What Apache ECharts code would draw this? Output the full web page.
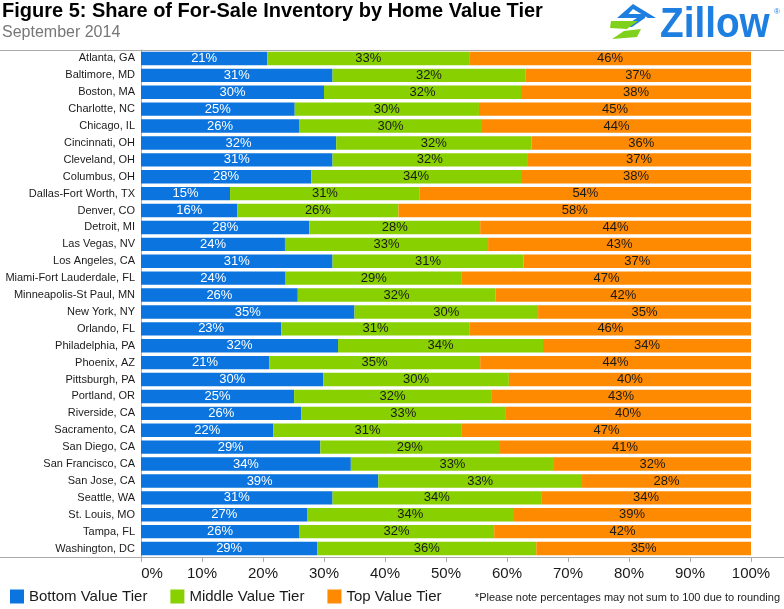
<!DOCTYPE html>
<html>
<head>
<meta charset="utf-8">
<script src="https://cdn.jsdelivr.net/npm/echarts@6/dist/echarts.min.js"></script>
<style>
html,body{margin:0;padding:0;background:#fff;}
#chart{width:784px;height:609px;}
</style>
</head>
<body>
<div id="chart"></div>
<script>
var cities = ["Atlanta, GA","Baltimore, MD","Boston, MA","Charlotte, NC","Chicago, IL","Cincinnati, OH","Cleveland, OH","Columbus, OH","Dallas-Fort Worth, TX","Denver, CO","Detroit, MI","Las Vegas, NV","Los Angeles, CA","Miami-Fort Lauderdale, FL","Minneapolis-St Paul, MN","New York, NY","Orlando, FL","Philadelphia, PA","Phoenix, AZ","Pittsburgh, PA","Portland, OR","Riverside, CA","Sacramento, CA","San Diego, CA","San Francisco, CA","San Jose, CA","Seattle, WA","St. Louis, MO","Tampa, FL","Washington, DC"];
var bottomTier = [20.7,31.4,30.0,25.2,25.9,32.0,31.4,27.9,14.6,15.8,27.6,23.6,31.4,23.7,25.7,35.0,23.0,32.3,21.0,29.9,25.1,26.3,21.7,29.4,34.4,38.9,31.4,27.3,25.9,28.9];
var middleTier = [33.1,31.6,32.3,30.2,30.0,32.0,31.9,34.4,31.1,26.4,28.0,33.3,31.3,28.9,32.4,30.1,30.9,33.6,34.6,30.4,32.3,33.4,30.9,29.3,33.3,33.4,34.2,33.7,32.0,35.9];
var topTier = [46.2,37.0,37.7,44.6,44.1,36.0,36.7,37.7,54.3,57.8,44.4,43.1,37.3,47.4,41.9,34.9,46.1,34.1,44.4,39.7,42.6,40.3,47.4,41.3,32.3,27.7,34.4,39.0,42.1,35.2];
var xTicks = [0,10,20,30,40,50,60,70,80,90,100];
var seriesNames = ["Bottom Value Tier","Middle Value Tier","Top Value Tier"];

var FONT = 'Arial, "Liberation Sans", sans-serif';
var colors = ['#0b74de','#88d000','#fd8a00'];

function mkSeries(name, data, color, labelColor){
  return {
    name: name, type: 'bar', stack: 'all', data: data,
    barCategoryGap: '21%',
    itemStyle: {color: color},
    label: {show: true, position: 'inside', color: labelColor, fontSize: 13, fontFamily: FONT,
      formatter: function(p){ return Math.round(p.value) + '%'; }},
    emphasis: {disabled: true}
  };
}

var chart = echarts.init(document.getElementById('chart'), null, {renderer: 'canvas'});
chart.setOption({
  animation: false,
  backgroundColor: '#fff',
  title: {
    left: 2, top: 1, padding: 0, itemGap: 4,
    text: '{b|Figure 5}{n|: Share of For-Sale Inventory by Home Value Tier}',
    textStyle: {rich: {
      b: {fontSize: 20, fontWeight: 'bold', fontFamily: FONT, color: '#000'},
      n: {fontSize: 20, fontFamily: FONT, color: '#000'}
    }},
    subtext: 'September 2014',
    subtextStyle: {fontSize: 16, fontFamily: FONT, color: '#777'}
  },
  legend: {
    left: 10, top: 589, padding: 0, itemWidth: 14, itemHeight: 14, itemGap: 23, icon: 'rect',
    data: seriesNames,
    textStyle: {fontSize: 15, fontFamily: FONT, color: '#1a1a1a'},
    selectedMode: false
  },
  grid: {left: 141, right: 33, top: 50, bottom: 52},
  xAxis: {
    type: 'value', min: 0, max: 100, interval: 10,
    axisLine: {show: true, lineStyle: {color: '#aaa'}},
    axisTick: {show: true, length: 5, lineStyle: {color: '#aaa'}},
    splitLine: {show: false},
    axisLabel: {
      fontSize: 15, fontFamily: FONT, color: '#1a1a1a', margin: 9,
      formatter: function(v){ return v === 0 ? '{z|0%}' : v + '%'; },
      rich: {z: {fontSize: 15, fontFamily: FONT, color: '#1a1a1a', padding: [0,0,0,22]}}
    },
    data: xTicks
  },
  yAxis: {
    type: 'category', inverse: true, data: cities,
    axisLine: {show: true, lineStyle: {color: '#aaa'}},
    axisTick: {show: false},
    axisLabel: {fontSize: 11, fontFamily: FONT, color: '#1a1a1a', margin: 6}
  },
  series: [
    mkSeries(seriesNames[0], bottomTier, colors[0], '#fff'),
    mkSeries(seriesNames[1], middleTier, colors[1], '#1a1a1a'),
    mkSeries(seriesNames[2], topTier, colors[2], '#1a1a1a')
  ],
  graphic: [
    {type: 'line', shape: {x1: 0, y1: 50.5, x2: 784, y2: 50.5}, style: {stroke: '#aaa', lineWidth: 1}, z: 1},
    {type: 'line', shape: {x1: 0, y1: 557.5, x2: 784, y2: 557.5}, style: {stroke: '#aaa', lineWidth: 1}, z: 1},
    {type: 'text', x: 780, y: 598,
      style: {text: '*Please note percentages may not sum to 100 due to rounding', font: '11px ' + FONT, fill: '#1a1a1a', textAlign: 'right', textVerticalAlign: 'middle'}},
    {type: 'polygon', shape: {points: [[617,18],[633,4],[656,18],[648,18],[633,9],[625,18]]}, style: {fill: '#1e7fe0'}},
    {type: 'polygon', shape: {points: [[626,14],[646,14],[645,18],[632,27],[623,27],[637,18],[625,18]]}, style: {fill: '#1e7fe0'}},
    {type: 'polygon', shape: {points: [[611,21],[638,21],[624,31],[641,29],[637,37],[612,39],[627,29],[610,28]]}, style: {fill: '#7fd11b'}},
    {type: 'text', x: 660, y: 25, scaleX: 0.9,
      style: {text: 'Zillow', x: 0, y: 0, font: 'bold 43px ' + FONT, fill: '#1e7fe0', textVerticalAlign: 'middle'}},
    {type: 'text', x: 774, y: 12,
      style: {text: '®', font: '8px ' + FONT, fill: '#1e7fe0', textVerticalAlign: 'middle'}}
  ]
});
</script>
</body>
</html>
